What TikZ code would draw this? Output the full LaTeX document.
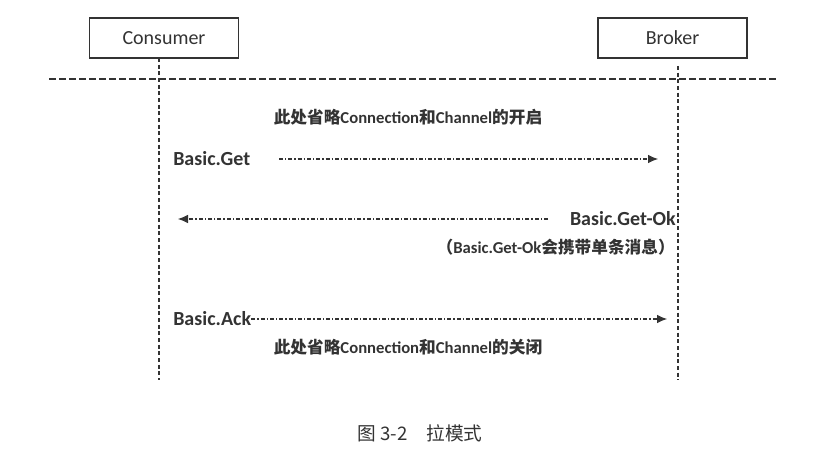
\documentclass[tikz,border=0pt]{standalone}
\usepackage{fontspec}
\setmainfont{Carlito}
\newfontfamily\cjk{Noto Sans CJK SC}
\newcommand\zh[1]{{\cjk\bfseries #1}}
\usetikzlibrary{arrows.meta}
\definecolor{ink}{HTML}{333333}
\begin{document}
\begin{tikzpicture}[x=0.75pt,y=-0.75pt,
  actor/.style={draw=ink,line width=1.1pt,minimum width=112pt,minimum height=30pt,inner sep=0pt,text=ink,font=\fontsize{15}{18}\selectfont},
  life/.style={draw=ink,line width=1pt,dash pattern=on 3pt off 2pt},
  sep/.style={draw=ink,line width=0.9pt,dash pattern=on 5pt off 2.5pt},
  msg/.style={draw=ink,line width=0.8pt,dash pattern=on 3pt off 1.5pt on 1pt off 1.5pt,-{Latex[length=7.5pt,width=6.5pt]}},
  lbl/.style={text=ink,inner sep=0pt,font=\bfseries\fontsize{15}{18}\selectfont},
  note/.style={text=ink,inner sep=0pt,font=\bfseries\fontsize{12.5}{15}\selectfont},
  captext/.style={text=ink,inner sep=0pt,font=\cjk\fontsize{14}{17}\selectfont}]
\useasboundingbox (0,0) rectangle (831,474);
% actors
\node[actor] (cons) at (164,38) {Consumer};
\node[actor] (brok) at (672.5,38) {Broker};
% lifelines
\coordinate (cTop) at (159,58);
\coordinate (cBot) at (159,380);
\coordinate (bTop) at (678,66);
\coordinate (bBot) at (678,380);
\draw[life] (cTop) -- (cBot);
\draw[life] (bTop) -- (bBot);
% separator
\coordinate (sL) at (49,79);
\coordinate (sR) at (777,79);
\draw[sep] (sL) -- (sR);
% texts
\node[note] (open) at (408,117) {\zh{此处省略}Connection\zh{和}Channel\zh{的开启}};
\node[lbl,anchor=west] (get) at (173,159) {Basic.Get};
\coordinate (getS) at (279,159);
\coordinate (getE) at (658,159);
\draw[msg] (getS) -- (getE);
\node[lbl,anchor=east] (getok) at (676,219) {Basic.Get-Ok};
\coordinate (okS) at (548,219);
\coordinate (okE) at (178,219);
\draw[msg] (okS) -- (okE);
\node[note,anchor=east] (paren) at (675,247) {\zh{（}Basic.Get-Ok\zh{会携带单条消息）}};
\node[lbl,anchor=west] (ack) at (173,319) {Basic.Ack};
\coordinate (ackE) at (667,319);
\draw[msg] (ack.east) -- (ackE);
\node[note] (close) at (408,347) {\zh{此处省略}Connection\zh{和}Channel\zh{的关闭}};
% caption
\node[captext] (caption) at (420,433) {图 3-2\hspace{14pt}拉模式};
\end{tikzpicture}
\end{document}
